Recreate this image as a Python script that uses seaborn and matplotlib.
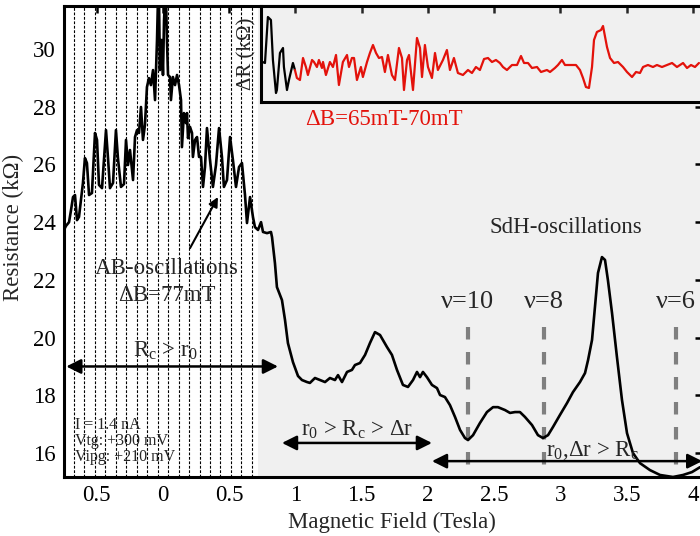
import matplotlib
matplotlib.use("Agg")
import numpy as np
import pandas as pd
import matplotlib.pyplot as plt
import seaborn as sns

sns.set_theme(style="white")
plt.rcParams["font.family"] = ["Liberation Serif", "DejaVu Serif"]
plt.rcParams["mathtext.fontset"] = "custom"
plt.rcParams["mathtext.rm"] = "Liberation Serif"
plt.rcParams["mathtext.it"] = "Liberation Serif:italic"
plt.rcParams["mathtext.default"] = "regular"

# --- main trace: R(B) (Tesla, kOhm) ---
field = [-0.747, -0.732, -0.709, -0.694, -0.679, -0.664, -0.649, -0.634, -0.619, -0.604,
         -0.589, -0.574, -0.558, -0.536, -0.513, -0.498, -0.483, -0.460, -0.430, -0.415,
         -0.400, -0.377, -0.355, -0.340, -0.317, -0.294, -0.279, -0.264, -0.249, -0.226,
         -0.211, -0.196, -0.181, -0.166, -0.151, -0.136, -0.121, -0.106, -0.091, -0.075,
         -0.060, -0.045, -0.038, -0.030, -0.023, -0.015, -0.008, 0.000, 0.008, 0.015,
         0.023, 0.030, 0.038, 0.053, 0.060, 0.075, 0.091, 0.106, 0.121, 0.136,
         0.143, 0.158, 0.174, 0.181, 0.189, 0.204, 0.219, 0.226, 0.242, 0.257,
         0.272, 0.287, 0.302, 0.317, 0.332, 0.355, 0.377, 0.400, 0.423, 0.445,
         0.460, 0.483, 0.506, 0.528, 0.551, 0.574, 0.596, 0.619, 0.634, 0.657,
         0.679, 0.694, 0.717, 0.740, 0.755, 0.785, 0.815, 0.823, 0.845, 0.860,
         0.898, 0.921, 0.943, 0.981, 1.019, 1.049, 1.087, 1.109, 1.147, 1.185,
         1.223, 1.260, 1.298, 1.321, 1.351, 1.389, 1.426, 1.449, 1.487, 1.525,
         1.562, 1.600, 1.638, 1.691, 1.728, 1.766, 1.811, 1.849, 1.887, 1.917,
         1.940, 1.962, 1.992, 2.030, 2.068, 2.091, 2.128, 2.166, 2.204, 2.242,
         2.279, 2.302, 2.340, 2.392, 2.445, 2.491, 2.528, 2.581, 2.619, 2.657,
         2.694, 2.732, 2.785, 2.830, 2.868, 2.906, 2.943, 2.996, 3.049, 3.094,
         3.147, 3.185, 3.208, 3.238, 3.260, 3.283, 3.313, 3.336, 3.358, 3.389,
         3.426, 3.464, 3.502, 3.547, 3.600, 3.675, 3.751, 3.849, 3.925, 3.992,
         4.053]
resistance = [23.73, 23.87, 24.00, 24.42, 24.87, 24.94, 24.07, 24.18, 24.77, 25.36,
              26.22, 26.05, 24.94, 25.01, 27.09, 26.85, 25.29, 25.18, 27.19, 26.22,
              25.18, 25.36, 27.19, 26.22, 25.22, 25.32, 26.85, 25.98, 26.50, 25.46,
              26.95, 27.19, 27.09, 27.99, 26.85, 27.37, 28.68, 28.99, 28.75, 29.27,
              28.23, 30.31, 31.70, 31.70, 29.27, 30.31, 30.31, 29.10, 31.00, 31.70,
              31.70, 30.31, 29.10, 29.03, 28.23, 29.03, 28.75, 29.10, 28.75, 28.23,
              26.60, 27.78, 27.43, 27.78, 26.91, 27.30, 27.09, 26.26, 26.85, 26.95,
              26.26, 26.26, 25.22, 25.91, 27.26, 26.15, 25.22, 25.98, 27.26, 26.26,
              25.22, 25.46, 26.95, 26.15, 25.22, 25.91, 26.05, 24.94, 23.97, 24.87,
              24.18, 23.83, 23.73, 24.00, 23.66, 23.62, 23.66, 23.48, 22.58, 21.75,
              21.30, 20.61, 19.81, 19.15, 18.67, 18.53, 18.46, 18.43, 18.60, 18.53,
              18.46, 18.60, 18.53, 18.70, 18.46, 18.81, 18.88, 19.05, 19.12, 19.40,
              19.81, 20.19, 20.09, 19.67, 19.40, 18.88, 18.36, 18.29, 18.53, 18.81,
              18.63, 18.81, 18.63, 18.36, 18.25, 18.01, 17.94, 17.66, 17.25, 16.80,
              16.52, 16.45, 16.62, 17.04, 17.42, 17.59, 17.59, 17.49, 17.39, 17.42,
              17.42, 17.25, 16.97, 16.62, 16.52, 16.62, 16.90, 17.32, 17.73, 18.11,
              18.46, 18.77, 19.22, 19.92, 21.06, 22.24, 22.79, 22.69, 21.99, 20.85,
              19.33, 17.84, 16.69, 16.00, 15.65, 15.41, 15.24, 15.17, 15.24, 15.34,
              15.51]

# --- inset: background-subtracted trace dR(B) ---
inset_field_ab = [0.745, 0.770, 0.792, 0.815, 0.830, 0.853, 0.860, 0.883, 0.906, 0.913,
                  0.936, 0.951, 0.981, 0.996]
inset_dr_ab = [0.17, 0.10, 2.40, 2.25, 0.25, -1.40, -1.25, 0.60, 0.85, -0.10,
               -1.25, -0.75, 0.10, -0.25]
inset_field_sdh = [0.996, 1.011, 1.034, 1.057, 1.079, 1.094, 1.125, 1.140, 1.162, 1.177,
                   1.200, 1.208, 1.230, 1.260, 1.283, 1.306, 1.328, 1.358, 1.389, 1.404,
                   1.426, 1.442, 1.464, 1.494, 1.509, 1.540, 1.562, 1.585, 1.608, 1.630,
                   1.653, 1.675, 1.698, 1.728, 1.751, 1.781, 1.804, 1.819, 1.842, 1.857,
                   1.887, 1.917, 1.940, 1.955, 1.977, 2.000, 2.030, 2.053, 2.075, 2.113,
                   2.143, 2.166, 2.196, 2.226, 2.264, 2.302, 2.332, 2.362, 2.392, 2.423,
                   2.453, 2.483, 2.513, 2.543, 2.566, 2.596, 2.634, 2.672, 2.702, 2.725,
                   2.755, 2.785, 2.823, 2.853, 2.898, 2.921, 2.958, 2.981, 3.011, 3.034,
                   3.072, 3.117, 3.147, 3.170, 3.192, 3.215, 3.238, 3.253, 3.275, 3.306,
                   3.321, 3.351, 3.374, 3.404, 3.434, 3.472, 3.502, 3.540, 3.570, 3.600,
                   3.623, 3.660, 3.698, 3.728, 3.766, 3.804, 3.842, 3.879, 3.925, 3.955,
                   3.985, 4.015, 4.045]
inset_dr_sdh = [-0.25, -0.65, -0.75, 0.35, -0.10, -0.50, 0.25, 0.15, -0.10, 0.25,
                -0.15, 0.15, -0.50, 0.15, -0.10, 0.50, -1.00, 0.15, 0.50, -0.10,
                0.35, 0.35, -0.75, -0.10, -0.60, 0.15, 0.60, 1.00, 0.60, 0.35,
                0.40, -0.35, 0.50, -0.50, -0.75, 0.85, 0.35, -1.25, 0.25, 0.50,
                -1.25, 1.35, 0.85, -0.60, 1.00, -0.10, -0.65, 0.60, -0.25, 0.25,
                0.75, -0.25, 0.35, -0.40, -0.50, -0.25, -0.40, -0.10, -0.25, 0.30,
                0.35, 0.15, 0.25, 0.10, -0.10, -0.25, 0.00, 0.00, 0.45, 0.10,
                0.10, -0.15, -0.10, -0.35, -0.25, -0.35, -0.15, 0.00, 0.25, 0.00,
                0.00, 0.00, -0.25, -0.65, -1.10, -1.15, -0.10, 1.25, 1.65, 1.75,
                1.95, 0.90, 0.35, 0.10, 0.15, -0.10, -0.35, -0.60, -0.35, -0.40,
                -0.10, 0.00, -0.10, 0.00, -0.10, 0.00, 0.10, -0.10, 0.10, -0.15,
                0.00, -0.10, 0.10]

# AB period markers (~77 mT apart) and filling factor positions
ab_period_fields = [-0.672, -0.593, -0.514, -0.435, -0.356, -0.277, -0.198, -0.119, -0.040,
                    0.039, 0.118, 0.197, 0.276, 0.355, 0.434, 0.513, 0.592, 0.671]
ab_region_end = 0.717
nu_fields = [2.30, 2.875, 3.872]
nu_labels = ["ν=10", "ν=8", "ν=6"]

x_ticks = [-0.5, 0, 0.5, 1, 1.5, 2, 2.5, 3, 3.5, 4]
x_ticklabels = ["0.5", "0", "0.5", "1", "1.5", "2", "2.5", "3", "3.5", "4"]
y_ticks = [16, 18, 20, 22, 24, 26, 28, 30]

df_main = pd.DataFrame({"field": field, "resistance": resistance})
df_inset = pd.concat([
    pd.DataFrame({"field": inset_field_ab, "dR": inset_dr_ab, "part": "AB"}),
    pd.DataFrame({"field": inset_field_sdh, "dR": inset_dr_sdh, "part": "SdH"}),
], ignore_index=True)

RED = "#e3120b"
FS = 16.5
W, H = 700, 536
fig = plt.figure(figsize=(W / 100, H / 100), dpi=100)
ax = fig.add_axes([64 / W, 59 / H, 638 / W, 471 / H])
ax.set_xlim(-0.747, 4.068)
ax.set_ylim(15.17, 31.49)

ax.axvspan(ab_region_end, 4.2, color="#f0f0f0", lw=0, zorder=0)
for xv in ab_period_fields:
    ax.axvline(xv, color="black", lw=0.8, ls=(0, (2.5, 1.5)), zorder=1)

sns.lineplot(data=df_main, x="field", y="resistance", ax=ax, color="black",
             lw=1.9, sort=False, estimator=None, zorder=3)

for xv, lab in zip(nu_fields, nu_labels):
    ax.plot([xv, xv], [20.37, 15.17], color="#7f7f7f", lw=3, ls=(0, (3, 3)), zorder=2)
    ax.text(xv, 21.23, lab, fontsize=19, ha="center", va="center")

ax.set_xticks(x_ticks)
ax.set_xticklabels(x_ticklabels)
ax.set_yticks(y_ticks)
ax.tick_params(direction="in", length=5, width=1.8, top=True, right=True,
               labelsize=FS, pad=6, colors="black")
for sp in ax.spines.values():
    sp.set_linewidth(2.2)
    sp.set_color("black")
ax.set_xlabel("Magnetic Field (Tesla)", fontsize=FS)
ax.set_ylabel("Resistance (k\u03a9)", fontsize=FS)
ax.xaxis.set_label_coords(0.514, -0.073)
ax.yaxis.set_label_coords(-0.062, 0.53)

# annotations
arrow2 = dict(arrowstyle="<|-|>", color="black", lw=1.8, mutation_scale=22,
              shrinkA=0, shrinkB=0)
ax.annotate("", xy=(0.868, 19.0), xytext=(-0.73, 19.0), arrowprops=arrow2, zorder=4)
ax.text(0.02, 19.55, r"R$_{c}$ > r$_{0}$", fontsize=FS, ha="center", va="center")
ax.annotate("", xy=(2.03, 16.35), xytext=(0.898, 16.35), arrowprops=arrow2, zorder=4)
ax.text(1.466, 16.8, r"r$_{0}$ > R$_{c}$ > Δr", fontsize=FS, ha="center", va="center")
ax.annotate("", xy=(4.07, 15.72), xytext=(2.03, 15.72), arrowprops=arrow2, zorder=4)
ax.text(3.24, 16.08, r"r$_{0}$,Δr > R$_{c}$", fontsize=FS, ha="center", va="center")

ax.annotate("", xy=(0.415, 24.87), xytext=(0.204, 23.10),
            arrowprops=dict(arrowstyle="-|>", color="black", lw=1.5,
                            mutation_scale=14, shrinkA=0, shrinkB=0))
ax.text(0.03, 22.41, "AB-oscillations", fontsize=FS, ha="center", va="center")
ax.text(0.03, 21.45, "ΔB=77mT", fontsize=FS, ha="center", va="center")
ax.text(3.04, 23.83, "SdH-oscillations", fontsize=FS, ha="center", va="center")
ax.text(-0.664, 17.25, "I = 1.4 nA\nVtg: +300 mV\nVipg: +210 mV", fontsize=11.5,
        ha="left", va="top", linespacing=1.0)

# inset
ins = fig.add_axes([261 / W, 434 / H, 441 / W, 96 / H])
ins.set_facecolor("#f0f0f0")
sns.lineplot(data=df_inset, x="field", y="dR", hue="part", ax=ins,
             palette={"AB": "black", "SdH": RED}, lw=1.6, sort=False,
             estimator=None, legend=False)
ins.set_xlim(0.74, 4.068)
ins.set_ylim(-1.85, 2.95)
ins.set_xticks([1, 1.5, 2, 2.5, 3, 3.5, 4])
ins.set_yticks([])
ins.tick_params(direction="in", length=5, width=1.8, bottom=False, top=True,
                labelbottom=False, labeltop=False)
for sp in ins.spines.values():
    sp.set_linewidth(2.2)
    sp.set_color("black")
ins.set_xlabel("")
ins.set_ylabel("ΔR (k\u03a9)", fontsize=15, labelpad=3)
ax.text(1.67, 27.57, "ΔB=65mT-70mT", color=RED, fontsize=FS, ha="center", va="center")

fig.savefig("out.png", dpi=100)
